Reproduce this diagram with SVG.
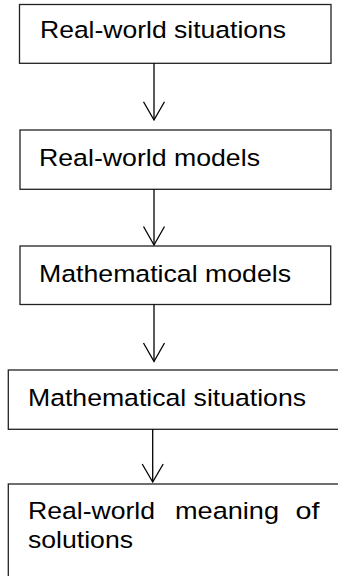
<svg xmlns="http://www.w3.org/2000/svg" width="338" height="576" viewBox="0 0 338 576">
<style>
.box{fill:#fff;stroke:#222;stroke-width:1.3}
.lbl{font-family:"Liberation Sans",Arial,sans-serif;font-size:24.5px;fill:#000}
.conn line,.conn polyline{stroke:#000;stroke-width:1.3;fill:none}
</style>
<rect width="338" height="576" fill="#fff"/>
<g id="n1"><rect class="box" x="19.5" y="4.5" width="311.5" height="58.8"/>
<text class="lbl" x="40" y="38" textLength="246" lengthAdjust="spacingAndGlyphs">Real-world situations</text></g>
<g id="n2"><rect class="box" x="20" y="130" width="311" height="59.3"/>
<text class="lbl" x="39" y="166" textLength="221" lengthAdjust="spacingAndGlyphs">Real-world models</text></g>
<g id="n3"><rect class="box" x="20" y="246" width="310.7" height="58.5"/>
<text class="lbl" x="39" y="281.5" textLength="252" lengthAdjust="spacingAndGlyphs">Mathematical models</text></g>
<g id="n4"><rect class="box" x="8.3" y="370" width="340" height="59.3"/>
<text class="lbl" x="28" y="406" textLength="278" lengthAdjust="spacingAndGlyphs">Mathematical situations</text></g>
<g id="n5"><rect class="box" x="8.3" y="484" width="340" height="100"/>
<text class="lbl" x="28" y="519" textLength="127" lengthAdjust="spacingAndGlyphs">Real-world</text>
<text class="lbl" x="175" y="519" textLength="104" lengthAdjust="spacingAndGlyphs">meaning</text>
<text class="lbl" x="295.5" y="519" textLength="24" lengthAdjust="spacingAndGlyphs">of</text>
<text class="lbl" x="28" y="547.5" textLength="105" lengthAdjust="spacingAndGlyphs">solutions</text></g>
<g id="connectors" class="conn">
<line x1="154" y1="63.3" x2="154" y2="120"/><polyline points="143.5,101.7 154,120 164.5,101.7"/>
<line x1="154" y1="189.3" x2="154" y2="245"/><polyline points="143.5,226.5 154,245 164.5,226.5"/>
<line x1="154" y1="304.5" x2="154" y2="361.5"/><polyline points="143.5,343 154,361.5 164.5,343"/>
<line x1="152.7" y1="429.3" x2="152.7" y2="482"/><polyline points="142.2,464 152.7,482 163.2,464"/>
</g>
</svg>
